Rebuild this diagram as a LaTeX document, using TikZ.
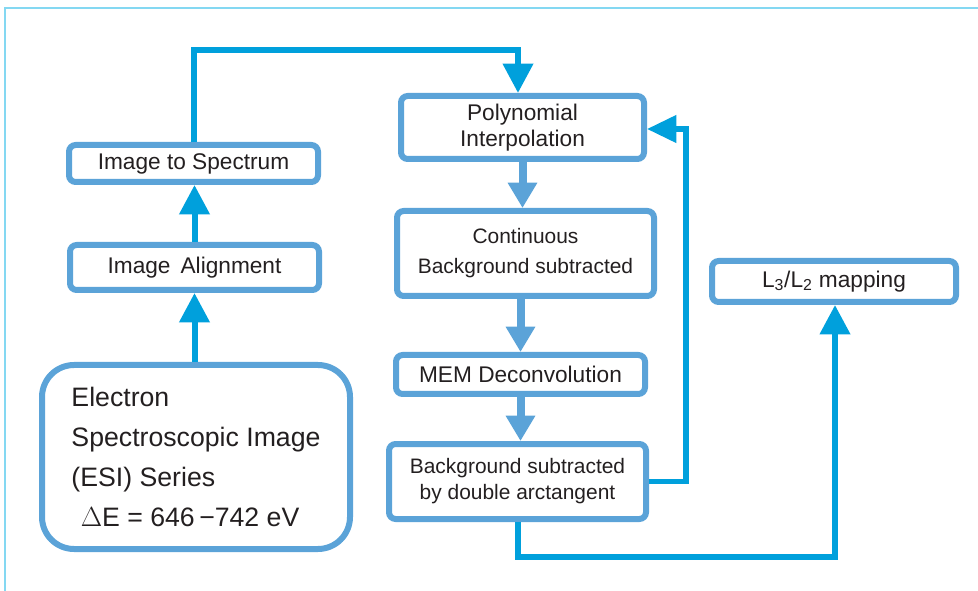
\documentclass[tikz,border=0pt]{standalone}
\usepackage{fontspec}
\setmainfont{Liberation Sans}
\usetikzlibrary{arrows.meta}
\definecolor{boxblue}{HTML}{5BA3D8}
\definecolor{linkblue}{HTML}{00A0DC}
\definecolor{framecyan}{HTML}{84D8F2}
\definecolor{txtgray}{HTML}{231F20}
\tikzset{block/.style={draw=boxblue,line width=4.5pt,rounded corners=5pt,inner sep=0pt,align=center,text=txtgray,font=\fontsize{17}{20}\selectfont}}
\tikzset{small/.style={font=\fontsize{15.7}{19.5}\selectfont}}
\tikzset{flow/.style={-{Triangle[width=21pt,length=19pt]},line width=6pt,draw=boxblue}}
\tikzset{link/.style={-{Triangle[width=22pt,length=22pt]},line width=4.5pt,draw=linkblue}}
\tikzset{frame/.style={draw=framecyan,line width=1.5pt}}

\begin{document}
\begin{tikzpicture}[x=0.75pt,y=-0.75pt]
    \useasboundingbox (0,0) rectangle (978,591);
    \draw [frame] (5,591) -- (5,8) -- (978,8);

    % left column
    \node (esi) [block,rounded corners=24pt,minimum width=231pt,minimum height=138pt,align=left,
        font=\fontsize{20}{30}\selectfont] at (196,457)
        {Electron\\Spectroscopic Image\\(ESI) Series\\\hspace{0.35em}$\Delta$E = 646\,\char"2212 742 eV};
    \node (align) [block,minimum width=186.75pt,minimum height=33.75pt] at (194.5,267.5) {Image\, Alignment};
    \node (spec) [block,minimum width=186.75pt,minimum height=27.75pt] at (193.5,163.5) {Image to Spectrum};

    % middle column
    \node (poly) [block,minimum width=182.25pt,minimum height=47.25pt] at (522.5,127.5) {Polynomial\\Interpolation};
    \node (cont) [block,small,font=\fontsize{15.7}{22.5}\selectfont,minimum width=192.75pt,minimum height=63.75pt] at (525.5,253.5) {Continuous\\Background subtracted};
    \node (mem) [block,minimum width=186.75pt,minimum height=29.25pt] at (520.5,374.5) {MEM Deconvolution};
    \node (bgsub) [block,small,minimum width=192.75pt,minimum height=56.25pt] at (517.5,481.5) {Background subtracted\\by double arctangent};

    % right column
    \node (map) [block,minimum width=183pt,minimum height=30.75pt] at (834,281.5) {L\textsubscript{3}/L\textsubscript{2} mapping};

    \coordinate (topturn) at (518,50);
    \coordinate (rightturn) at (686,129);
    \coordinate (lowturn) at (835,557);

    \draw [link] (esi.north -| align.south) -- (align.south);
    \draw [link] (align.north) -- (align.north |- spec.south);
    \draw [link] (spec.north) |- (topturn) -- (topturn |- poly.north);

    \draw [flow] (poly.south) -- (poly.south |- cont.north);
    \draw [flow] (mem.north |- cont.south) -- (mem.north);
    \draw [flow] (mem.south) -- (mem.south |- bgsub.north);

    \draw [link,line width=4pt,-{Triangle[width=20pt,length=22pt]}] (bgsub.east) -| (rightturn) -- (poly.east |- rightturn);
    \draw [link] (bgsub.south) |- (lowturn) -- (lowturn |- map.south);
\end{tikzpicture}
\end{document}
